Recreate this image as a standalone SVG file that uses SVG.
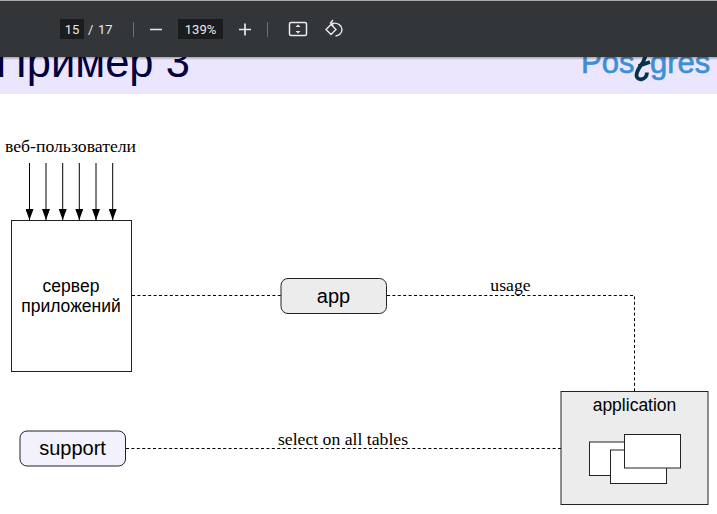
<svg xmlns="http://www.w3.org/2000/svg" width="717" height="514" viewBox="0 0 717 514">
<style>
.s{font-family:"Liberation Sans",Arial,sans-serif;fill:#000}
.t{font-family:"Liberation Serif","Times New Roman",serif;fill:#000;font-size:17.7px}
.ui{font-family:Roboto,"Liberation Sans",sans-serif;fill:#e8eaed;font-size:13px}
.box{stroke:#222;stroke-width:1}
.dash{fill:none;stroke:#000;stroke-width:1;stroke-dasharray:3 2.4}
.arr{fill:none;stroke:#000;stroke-width:1;marker-end:url(#ah)}
.icon{fill:none;stroke:#e8eaed;stroke-width:1.5}
.logo{fill:#3b8fd3;stroke:#3b8fd3;stroke-width:.6}
</style>
<defs>
<marker id="ah" markerUnits="userSpaceOnUse" markerWidth="11" markerHeight="8" refX="11" refY="4" orient="auto" viewBox="0 0 11 8"><path d="M0 0L11 4L0 8Z" fill="#000"/></marker>
<linearGradient id="sh" x1="0" y1="0" x2="0" y2="1"><stop offset="0" stop-color="#000" stop-opacity=".3"/><stop offset="1" stop-color="#000" stop-opacity="0"/></linearGradient>
</defs>
<rect width="717" height="514" fill="#fff"/>
<g id="slide-header">
<rect x="0" y="56" width="717" height="38" fill="#ebe5fe"/>
<text class="s" x="-4.500" y="77" font-size="43.500" style="fill:#02003f">Пример 3</text>
<text class="s logo" x="581" y="72.500" font-size="31">Pos</text>
<text class="s logo" x="650" y="72.500" font-size="31">gres</text>
<path d="M638.500 66L650 62M645.500 56L643.500 61C641 66 636.500 70 636.500 75.500C636.500 81 646.500 81 647 72.500" fill="none" stroke="#05344a" stroke-width="3.800"/>
</g>
<g id="toolbar">
<rect x="0" y="0" width="717" height="57" fill="#323639"/>
<rect x="0" y="0" width="717" height="1" fill="#a9a9a9"/>
<rect x="0" y="57" width="717" height="3" fill="url(#sh)"/>
<rect x="60" y="19" width="24" height="20" fill="#1b1c1e"/>
<text class="ui" x="72" y="34" text-anchor="middle">15</text>
<text class="ui" x="88" y="34">/</text>
<text class="ui" x="98" y="34">17</text>
<path d="M133.500 22V37M267.500 22V37" stroke="#6d7073" stroke-width="1"/>
<path d="M150 29.500H162M239 29.500H251M245 23.500V35.500" stroke="#e8eaed" stroke-width="1.700" fill="none"/>
<rect x="178" y="19" width="45" height="20" fill="#1b1c1e"/>
<text class="ui" x="200.500" y="34" text-anchor="middle">139%</text>
<rect class="icon" x="289.500" y="22.500" width="17" height="13" rx="1.500"/>
<path d="M295.500 27L298 24.500L300.500 27ZM295.500 31L298 33.500L300.500 31Z" fill="#e8eaed"/>
<path class="icon" d="M331 24.500L326 29.500L331 34.500L336 29.500ZM332 23.500C338 22 342 26 342 29.500C342 33 339 36 335.500 36M333 20L330.500 23L333.500 25.500" style="stroke-width:1.400"/>
</g>
<g id="connectors">
<path class="arr" d="M29.500 163V220"/>
<path class="arr" d="M46 163V220"/>
<path class="arr" d="M62.700 163V220"/>
<path class="arr" d="M79.300 163V220"/>
<path class="arr" d="M96 163V220"/>
<path class="arr" d="M112.700 163V220"/>
<path class="dash" d="M132 295.500H281"/>
<path class="dash" d="M387 295.500H634.500V391"/>
<path class="dash" d="M126 448.500H561"/>
</g>
<g id="label-web"><text class="t" x="70.500" y="152" text-anchor="middle">веб-пользователи</text></g>
<g id="node-server">
<rect class="box" x="11.500" y="220.500" width="120" height="151" fill="#fff"/>
<text class="s" x="71" y="292" font-size="17.500" text-anchor="middle">сервер</text>
<text class="s" x="71" y="312" font-size="17.500" text-anchor="middle">приложений</text>
</g>
<g id="node-app">
<rect class="box" x="281" y="278.500" width="105.500" height="35" rx="7" fill="#ececec"/>
<text class="s" x="333.500" y="303" font-size="20" text-anchor="middle">app</text>
</g>
<g id="node-support">
<rect class="box" x="20" y="431" width="105.500" height="35" rx="7" fill="#f3f1fe"/>
<text class="s" x="72.500" y="455" font-size="20" text-anchor="middle">support</text>
</g>
<g id="node-application">
<rect class="box" x="561" y="391.500" width="147" height="113" fill="#ececec"/>
<text class="s" x="634.500" y="411" font-size="17.500" text-anchor="middle">application</text>
<rect class="box" x="589.500" y="442" width="56" height="33.500" fill="#fff"/>
<rect class="box" x="610.500" y="450" width="56" height="33.500" fill="#fff"/>
<rect class="box" x="624.500" y="434.500" width="56" height="33.500" fill="#fff"/>
</g>
<g id="label-usage"><text class="t" x="510.500" y="291" text-anchor="middle">usage</text></g>
<g id="label-select"><text class="t" x="343" y="445" text-anchor="middle">select on all tables</text></g>
</svg>
